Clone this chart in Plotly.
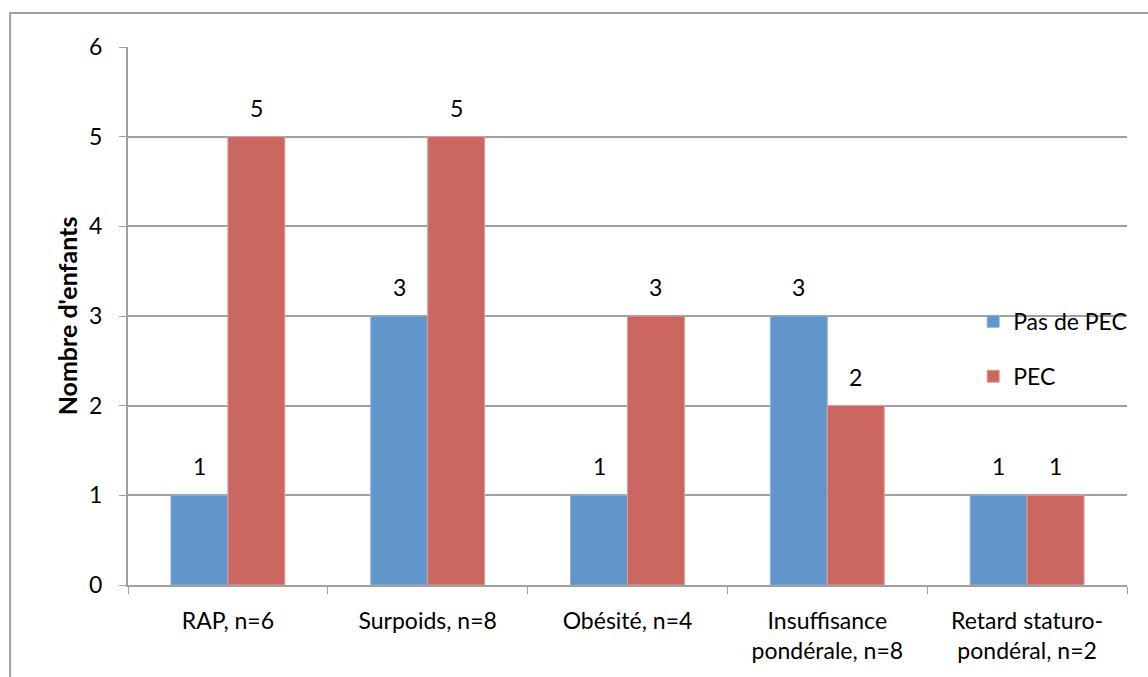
import plotly.graph_objects as go

categories = ["RAP, n=6", "Surpoids, n=8", "Obésité, n=4",
              "Insuffisance<br>pondérale, n=8", "Retard staturo-<br>pondéral, n=2"]
pas_de_pec = [1, 3, 1, 3, 1]
pec = [5, 5, 3, 2, 1]
series_names = ["Pas de PEC", "PEC"]
y_ticks = [0, 1, 2, 3, 4, 5, 6]

FONT = "Lato, 'Open Sans', sans-serif"
BLUE = "#6096C9"
RED = "#CC6660"
FS = 23

fig = go.Figure()
fig.add_trace(go.Bar(x=categories, y=pas_de_pec, name=series_names[0],
                     marker=dict(color=BLUE, line=dict(color="#8DB3DA", width=1)),
                     legendgroup="a"))
fig.add_trace(go.Bar(x=categories, y=pec, name=series_names[1],
                     marker=dict(color=RED, line=dict(color="#DE9D99", width=1)),
                     legendgroup="b"))

# value labels above each bar (offset to the bar centre within its group)
half = 0.285 / 2
for i, (a, b) in enumerate(zip(pas_de_pec, pec)):
    for xv, yv in ((i - half, a), (i + half, b)):
        fig.add_annotation(x=xv, y=yv, text=str(yv), showarrow=False,
                           yshift=29, font=dict(family=FONT, size=FS, color="#000"))

# outer chart frame
fig.add_shape(type="rect", xref="paper", yref="paper",
              x0=-0.118, x1=1.2, y0=-0.3, y1=1.063,
              line=dict(color="#A0A0A0", width=2), fillcolor="rgba(0,0,0,0)", layer="below")

fig.update_layout(
    width=1148, height=677,
    margin=dict(l=128, r=21, t=47, b=92, autoexpand=False),
    paper_bgcolor="white", plot_bgcolor="white",
    barmode="group", bargap=0.43, bargroupgap=0,
    font=dict(family=FONT, size=FS, color="#000"),
    showlegend=True,
    legend=dict(x=0.846, y=0.53, xanchor="left", yanchor="top",
                bgcolor="rgba(0,0,0,0)", font=dict(size=FS),
                traceorder="grouped", tracegroupgap=22, itemwidth=30),
    xaxis=dict(type="category", tickson="boundaries", ticks="outside", ticklen=7,
               tickcolor="#A0A0A0", showline=True, linecolor="#A0A0A0", linewidth=2,
               showgrid=False, tickfont=dict(size=FS), range=[-0.5, 4.5],
               ticklabelstandoff=14, automargin=False),
    yaxis=dict(range=[0, 6], tickvals=y_ticks, ticks="outside", ticklen=7,
               tickcolor="#A0A0A0", showline=True, linecolor="#A0A0A0", linewidth=2,
               showgrid=True, gridcolor="#A0A0A0", gridwidth=2, zeroline=False,
               tickfont=dict(size=FS), ticklabelstandoff=12, automargin=False,
               title=dict(text="<b>Nombre d'enfants</b>", font=dict(size=25), standoff=4)),
)

fig.write_html("out.html")
